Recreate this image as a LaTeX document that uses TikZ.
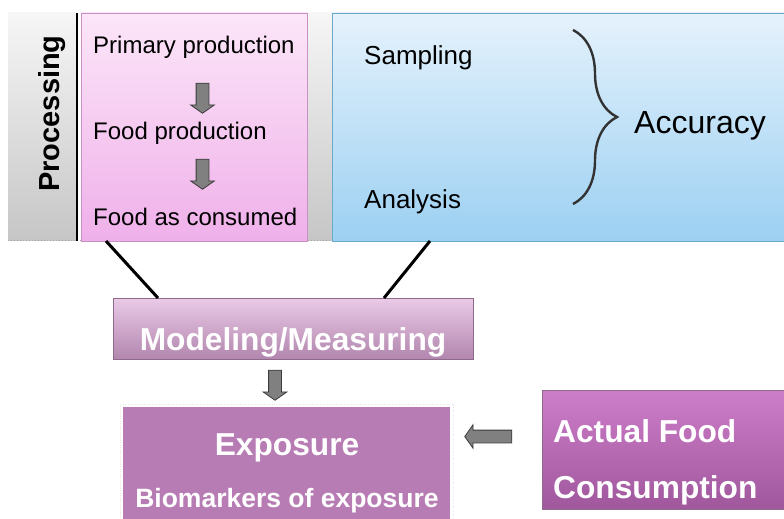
\documentclass[tikz,border=0pt]{standalone}
\usepackage{fontspec}
\setmainfont{Liberation Sans}
\usetikzlibrary{shapes.arrows,decorations.pathreplacing}
\definecolor{arrowfill}{HTML}{808080}
\definecolor{arrowdraw}{HTML}{3C3C3C}
\definecolor{pinktop}{HTML}{FCE6F8}
\definecolor{pinkbot}{HTML}{EFB0EA}
\definecolor{pinkline}{HTML}{C890C4}
\definecolor{bluetop}{HTML}{E5F2FC}
\definecolor{bluebot}{HTML}{9CD0F2}
\definecolor{blueline}{HTML}{6AAAC8}
\definecolor{modtop}{HTML}{EACAE7}
\definecolor{modbot}{HTML}{B286AE}
\definecolor{modline}{HTML}{8E6A8A}
\definecolor{expo}{HTML}{B87CB5}
\definecolor{acttop}{HTML}{CD7EC9}
\definecolor{actbot}{HTML}{A0579C}
\definecolor{graytop}{HTML}{F6F6F6}
\definecolor{graybot}{HTML}{C6C6C6}
\tikzset{
  x=1pt, y=-1pt,
  blockarrow/.style={single arrow, draw=arrowdraw, fill=arrowfill, line width=0.8pt,
    inner sep=6pt, single arrow head extend=5.5pt, single arrow tip angle=110,
    text width=0pt},
  plain/.style={inner sep=0pt, anchor=base west, font=\fontsize{24}{28}\selectfont},
  bluetext/.style={inner sep=0pt, anchor=base west, font=\fontsize{26}{30}\selectfont},
  whitebold/.style={inner sep=0pt, anchor=base, text=white, font=\bfseries\fontsize{31.7}{36}\selectfont},
  joint/.style={line width=3pt, black},
}
\begin{document}
\begin{tikzpicture}
\useasboundingbox (0,0) rectangle (784,519);
% gray background panels
\shade[top color=graytop, bottom color=graybot] (8,13) rectangle (77,240);
\shade[top color=graytop, bottom color=graybot] (307,13) rectangle (332,240);
\draw[gray!70, dotted, line width=1pt] (8,240.5) -- (784,240.5);
\draw[black, line width=2.5pt] (77,13) -- (77,241);
% pink box
\shade[top color=pinktop, bottom color=pinkbot] (81,13) rectangle (307,241);
\draw[pinkline, line width=0.8pt] (81,13) rectangle (307,241);
\node[coordinate] (pinkfoot) at (106,241) {};
% blue box
\shade[top color=bluetop, bottom color=bluebot] (332,13) rectangle (784,241);
\draw[blueline, line width=0.8pt] (784,13) -- (332,13) -- (332,241) -- (784,241);
\node[coordinate] (bluefoot) at (430,241) {};
% texts in processing column
\node[inner sep=0pt, anchor=base, rotate=90, font=\bfseries\fontsize{29}{32}\selectfont] (proc) at (59,113.5) {Processing};
\node[plain] (prim) at (93,54) {Primary production};
\node[plain] (fprod) at (93,139) {Food production};
\node[plain] (fcons) at (93,225) {Food as consumed};
\node[blockarrow, minimum height=30pt, shape border rotate=270] (a1) at (202.5,96) {};
\node[blockarrow, minimum height=30pt, shape border rotate=270] (a2) at (202.5,172) {};
% blue texts
\node[bluetext] (samp) at (364,65) {Sampling};
\node[bluetext] (anal) at (364,208) {Analysis};
\node[inner sep=0pt, anchor=base west, font=\fontsize{32}{36}\selectfont] (acc) at (634,133) {Accuracy};
\draw[decorate, decoration={brace, amplitude=44pt, aspect=0.5}, line width=2.4pt, black!80] (573,30) -- (573,204);
% modeling box
\shade[top color=modtop, bottom color=modbot] (113,298) rectangle (473,359);
\draw[modline, line width=0.8pt] (113,298) rectangle (473,359);
\node[whitebold] (model) at (293,350) {Modeling/Measuring};
\node[coordinate] (modl) at (158,298) {};
\node[coordinate] (modr) at (384,298) {};
\draw[joint] (pinkfoot) -- (modl);
\draw[joint] (bluefoot) -- (modr);
% arrow down
\node[blockarrow, minimum height=30pt, shape border rotate=270] (a3) at (275,383) {};
% exposure box
\draw[gray!20, dotted] (120,404) rectangle (453,519);
\fill[expo] (123,407) rectangle (450,519);
\node[whitebold] (expt) at (287,455) {Exposure};
\node[inner sep=0pt, anchor=base, text=white, font=\bfseries\fontsize{26.5}{30}\selectfont] (bio) at (287,507) {Biomarkers of exposure};
% left arrow
\node[blockarrow, minimum height=47pt, shape border rotate=180] (a4) at (490.5,436.5) {};
% actual food box
\shade[top color=acttop, bottom color=actbot] (542,390) rectangle (784,509);
\draw[modline, line width=0.6pt] (784,390) -- (542,390) -- (542,509) -- (784,509);
\node[inner sep=0pt, anchor=base west, text=white, font=\bfseries\fontsize{31.7}{36}\selectfont] (act1) at (553,442) {Actual Food};
\node[inner sep=0pt, anchor=base west, text=white, font=\bfseries\fontsize{31.7}{36}\selectfont] (act2) at (553,498) {Consumption};
\end{tikzpicture}
\end{document}
